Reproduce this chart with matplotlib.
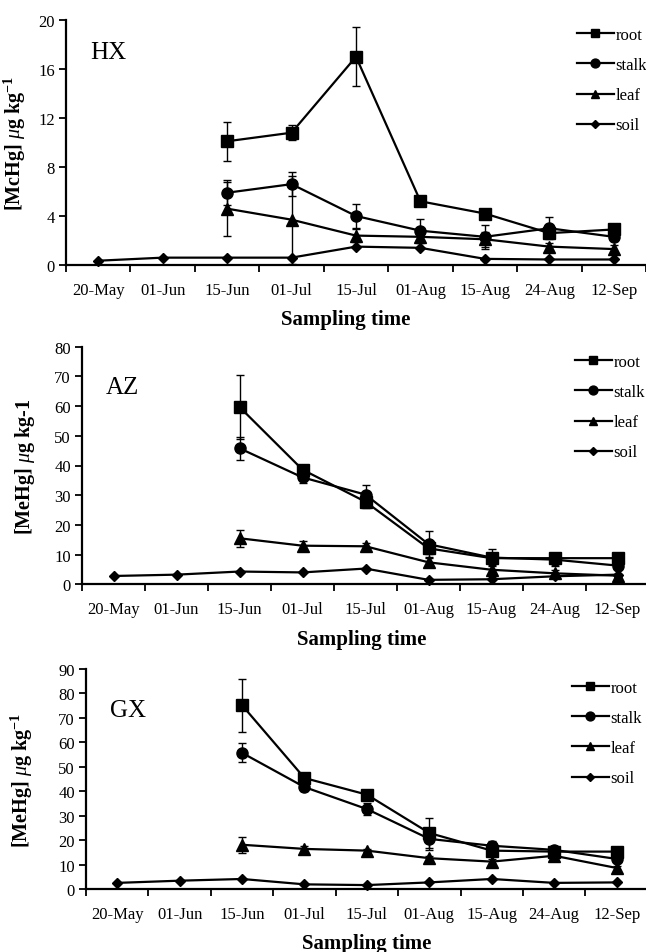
"""
    MeHg concentrations in root, stalk, leaf and soil at three sites
"""
import numpy as np
import matplotlib.pyplot as plt
from matplotlib.lines import Line2D
from matplotlib.ticker import FixedLocator, NullFormatter

nan = np.nan

dates = ["20-May", "01-Jun", "15-Jun", "01-Jul", "15-Jul",
         "01-Aug", "15-Aug", "24-Aug", "12-Sep"]
series_names = ["root", "stalk", "leaf", "soil"]

# HX
hx_root = [nan, nan, 10.1, 10.8, 17.0, 5.2, 4.2, 2.6, 2.9]
hx_root_err = [0, 0, 1.6, 0.6, 2.4, 0.3, 0.2, 0.3, 0.2]
hx_stalk = [nan, nan, 5.9, 6.6, 4.0, 2.8, 2.3, 3.0, 2.3]
hx_stalk_err = [0, 0, 1.0, 1.0, 1.0, 0.95, 1.0, 0.9, 0.3]
hx_leaf = [nan, nan, 4.6, 3.7, 2.4, 2.3, 2.1, 1.5, 1.3]
hx_leaf_err = [0, 0, 2.2, 3.6, 0.5, 0.5, 0.6, 0.3, 0.3]
hx_soil = [0.35, 0.6, 0.6, 0.6, 1.5, 1.4, 0.5, 0.45, 0.45]
hx_soil_err = [0, 0, 0, 0, 0, 0, 0, 0, 0]

# AZ
az_root = [nan, nan, 59.7, 38.6, 27.8, 12.1, 8.8, 8.8, 8.8]
az_root_err = [0, 0, 10.8, 1.5, 2.0, 2.0, 1.0, 1.0, 1.0]
az_stalk = [nan, nan, 45.8, 36.0, 30.2, 13.5, 9.0, 8.3, 6.3]
az_stalk_err = [0, 0, 3.8, 2.0, 3.3, 4.3, 3.0, 2.0, 1.0]
az_leaf = [nan, nan, 15.5, 13.0, 12.8, 7.4, 4.9, 3.7, 2.9]
az_leaf_err = [0, 0, 2.8, 1.5, 1.0, 1.5, 1.5, 1.0, 0.5]
az_soil = [2.8, 3.25, 4.3, 4.0, 5.3, 1.5, 1.7, 2.7, 3.25]
az_soil_err = [0, 0, 0, 0, 0, 0, 0, 0, 0]

# GX
gx_root = [nan, nan, 75.2, 45.4, 38.6, 22.9, 15.7, 15.3, 15.3]
gx_root_err = [0, 0, 10.8, 1.5, 1.5, 6.0, 2.0, 1.5, 1.0]
gx_stalk = [nan, nan, 55.7, 41.7, 32.7, 20.5, 17.7, 16.0, 12.3]
gx_stalk_err = [0, 0, 3.9, 1.5, 2.5, 4.5, 2.0, 1.5, 1.0]
gx_leaf = [nan, nan, 18.1, 16.4, 15.7, 12.6, 11.2, 13.6, 8.6]
gx_leaf_err = [0, 0, 3.3, 1.0, 0.5, 1.0, 1.0, 1.0, 1.0]
gx_soil = [2.5, 3.4, 4.1, 1.9, 1.6, 2.7, 4.1, 2.5, 2.7]
gx_soil_err = [0, 0, 0, 0, 0, 0, 0, 0, 0]

W, H = 646, 953
MARKERS = {"root": ("s", 8), "stalk": ("o", 8), "leaf": ("^", 8), "soil": ("D", 5.5)}


def draw_panel(fig, rect, site, values, errors, ymax, ystep, ylabel,
               site_xy, legend_xy, label_x, xlabel_pos):
    """Jeden panel grafu (jedna lokalita)"""
    ax = fig.add_axes(rect)
    x = np.arange(len(dates))

    handles = []
    for name, vals, errs in zip(series_names, values, errors):
        m, ms = MARKERS[name]
        ax.errorbar(x, vals, yerr=errs, color="black", lw=1.6, marker=m,
                    markersize=ms, capsize=3, elinewidth=1.0, capthick=1.0,
                    clip_on=False, zorder=3)
        handles.append(Line2D([], [], color="black", lw=1.6, marker=m,
                              markersize=ms * 0.8, label=name))

    ax.set_xlim(-0.5, len(dates) - 0.5)
    ax.set_ylim(0, ymax)
    ax.set_yticks(np.arange(0, ymax + 0.1, ystep))

    # tick marks between categories, labels in the middle
    ax.xaxis.set_major_locator(FixedLocator(np.arange(-0.5, len(dates), 1.0)))
    ax.xaxis.set_major_formatter(NullFormatter())
    ax.xaxis.set_minor_locator(FixedLocator(x))
    ax.set_xticklabels(dates, minor=True)
    ax.tick_params(axis="x", which="major", direction="out", length=5, width=1.3)
    ax.tick_params(axis="x", which="minor", length=0, pad=12, labelsize=12)
    ax.tick_params(axis="y", direction="out", length=5, width=1.3, labelsize=12, pad=3)

    for side in ("top", "right"):
        ax.spines[side].set_visible(False)
    for side in ("left", "bottom"):
        ax.spines[side].set_linewidth(1.6)

    ax.set_xlabel("Sampling time", fontsize=15, fontweight="bold")
    ax.xaxis.set_label_coords(*xlabel_pos)
    ax.set_ylabel(ylabel, fontsize=14.5, fontweight="bold")
    ax.yaxis.set_label_coords(label_x, 0.5)

    fig.text(site_xy[0] / W, 1 - site_xy[1] / H, site, fontsize=18,
             ha="left", va="center")

    ax.legend(handles=handles, loc="upper left",
              bbox_to_anchor=(legend_xy[0] / W, 1 - legend_xy[1] / H),
              bbox_transform=fig.transFigure, frameon=False, fontsize=12,
              handlelength=2.2, handletextpad=0.1, labelspacing=0.85,
              borderpad=0, borderaxespad=0)
    return ax


def main():
    """
        Hlavní funkce programu
    """
    plt.rcParams["font.family"] = "Liberation Serif"
    plt.rcParams["mathtext.fontset"] = "custom"
    plt.rcParams["mathtext.rm"] = "Liberation Serif"
    plt.rcParams["mathtext.it"] = "Liberation Serif:italic"
    plt.rcParams["mathtext.bf"] = "Liberation Serif:bold"

    fig = plt.figure(figsize=(W / 100, H / 100), dpi=100)

    draw_panel(fig, [66 / W, 1 - 266 / H, 580 / W, 245 / H], "HX",
               [hx_root, hx_stalk, hx_leaf, hx_soil],
               [hx_root_err, hx_stalk_err, hx_leaf_err, hx_soil_err],
               20, 4, r"[McHg] $\mu$g kg$^{\mathbf{-1}}$",
               (90, 53), (577, 28), -0.066, (0.483, -0.18))

    draw_panel(fig, [82 / W, 1 - 585.3 / H, 567 / W, 237.6 / H], "AZ",
               [az_root, az_stalk, az_leaf, az_soil],
               [az_root_err, az_stalk_err, az_leaf_err, az_soil_err],
               80, 10, r"[MeHg] $\mu$g kg-1",
               (106, 388), (575, 355), -0.079, (0.494, -0.19))

    draw_panel(fig, [85.9 / W, 1 - 890 / H, 562 / W, 220 / H], "GX",
               [gx_root, gx_stalk, gx_leaf, gx_soil],
               [gx_root_err, gx_stalk_err, gx_leaf_err, gx_soil_err],
               90, 10, r"[MeHg] $\mu$g kg$^{\mathbf{-1}}$",
               (110, 711), (572, 681), -0.091, (0.5, -0.2))

    fig.savefig("out.png", dpi=100)


if __name__ == "__main__":
    main()
